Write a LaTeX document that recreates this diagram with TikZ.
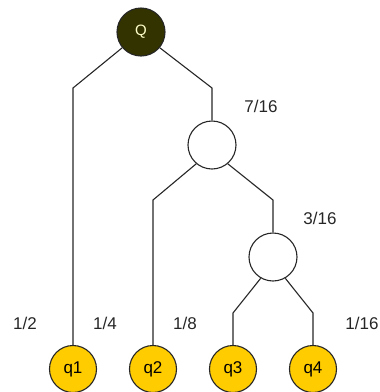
\documentclass[tikz,border=0pt]{standalone}
\usepackage{fontspec}
\setmainfont{Liberation Sans}
\definecolor{olive}{HTML}{333300}
\definecolor{qyel}{HTML}{FFCC00}
\definecolor{qtext}{HTML}{FFFFCC}
\begin{document}
\begin{tikzpicture}[x=1pt,y=-1pt,
  conn/.style={line width=1.1pt, draw=black!85},
  inner/.style={circle, draw=black!85, line width=1.1pt, fill=white, minimum size=48pt, inner sep=0pt},
  root/.style={inner, fill=olive, text=qtext, font=\fontsize{15}{15}\selectfont},
  leaf/.style={inner, fill=qyel, minimum size=47pt, font=\fontsize{17}{17}\selectfont},
  lbl/.style={font=\fontsize{17}{17}\selectfont, text=black!85, inner sep=0pt}]
\useasboundingbox (0,0) rectangle (380,392);
\node[root] (Q) at (141,32) {Q};
\node[inner] (n1) at (212,145) {};
\node[inner] (n2) at (273,257) {};
\node[leaf] (q1) at (73,369) {q1};
\node[leaf] (q2) at (153,369) {q2};
\node[leaf] (q3) at (233,369) {q3};
\node[leaf] (q4) at (313,369) {q4};
\coordinate (c1) at (73,88);
\coordinate (c2) at (212,88);
\coordinate (c3) at (153,200);
\coordinate (c4) at (273,200);
\coordinate (c5) at (233,313);
\coordinate (c6) at (313,313);
\draw[conn] (Q.-140) -- (c1) -- (q1.north);
\draw[conn] (Q.-40) -- (c2) -- (n1.north);
\draw[conn] (n1.-130) -- (c3) -- (q2.north);
\draw[conn] (n1.-50) -- (c4) -- (n2.north);
\draw[conn] (n2.-120) -- (c5) -- (q3.north);
\draw[conn] (n2.-60) -- (c6) -- (q4.north);
\node[lbl] (l716) at (261,106) {7/16};
\node[lbl] (l316) at (320,218) {3/16};
\node[lbl] (l12) at (25,323) {1/2};
\node[lbl] (l14) at (105,323) {1/4};
\node[lbl] (l18) at (185,323) {1/8};
\node[lbl] (l116) at (362,323) {1/16};
\end{tikzpicture}
\end{document}
